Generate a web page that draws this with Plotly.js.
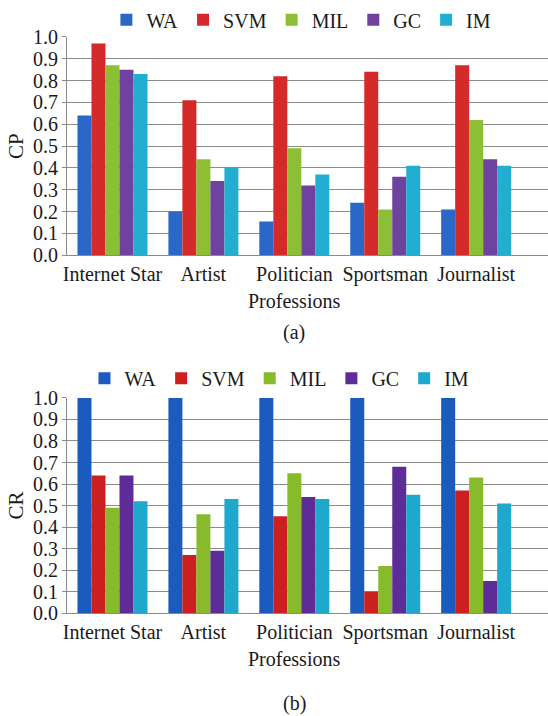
<!DOCTYPE html>
<html>
<head>
<meta charset="utf-8">
<script src="https://cdn.plot.ly/plotly-3.0.1.min.js"></script>
</head>
<body style="margin:0;padding:0;background:#fff">
<div id="chart" style="width:548px;height:716px"></div>
<script>
var professions = ["Internet Star", "Artist", "Politician", "Sportsman", "Journalist"];
var methods = ["WA", "SVM", "MIL", "GC", "IM"];
var colors = ["#2a67c6", "#d42a2a", "#8dbf36", "#6f42a0", "#22aed0"];
var colorsB = ["#1a5bbd", "#cc1f1f", "#87bb2c", "#5e2c97", "#1ea8cc"];

// CP values (panel a)
var cpWA  = [0.64, 0.20, 0.155, 0.24, 0.21];
var cpSVM = [0.97, 0.71, 0.82, 0.84, 0.87];
var cpMIL = [0.87, 0.44, 0.49, 0.21, 0.62];
var cpGC  = [0.85, 0.34, 0.32, 0.36, 0.44];
var cpIM  = [0.83, 0.40, 0.37, 0.41, 0.41];

// CR values (panel b)
var crWA  = [1.0, 1.0, 1.0, 1.0, 1.0];
var crSVM = [0.64, 0.27, 0.45, 0.10, 0.57];
var crMIL = [0.49, 0.46, 0.65, 0.22, 0.63];
var crGC  = [0.64, 0.29, 0.54, 0.68, 0.15];
var crIM  = [0.52, 0.53, 0.53, 0.55, 0.51];

var yTicks = [0, 0.1, 0.2, 0.3, 0.4, 0.5, 0.6, 0.7, 0.8, 0.9, 1.0];
var yTickText = ["0.0", "0.1", "0.2", "0.3", "0.4", "0.5", "0.6", "0.7", "0.8", "0.9", "1.0"];

var cpSeries = [cpWA, cpSVM, cpMIL, cpGC, cpIM];
var crSeries = [crWA, crSVM, crMIL, crGC, crIM];

var FONT = "Liberation Serif";
var TXT = "#1a1a1a";
var traces = [];
methods.forEach(function (m, i) {
  traces.push({
    type: "bar", name: m, x: professions, y: cpSeries[i],
    xaxis: "x", yaxis: "y", marker: {color: colors[i]},
    legend: "legend", legendgroup: "a" + m
  });
});
methods.forEach(function (m, i) {
  traces.push({
    type: "bar", name: m, x: professions, y: crSeries[i],
    xaxis: "x2", yaxis: "y2", marker: {color: colorsB[i]},
    legend: "legend2", legendgroup: "b" + m
  });
});

function xAxis(anchor) {
  return {
    domain: [0.1223, 1], anchor: anchor, type: "category",
    range: [-0.5, 4.79], showline: true, linecolor: "#8a8a8a", linewidth: 1,
    ticks: "", showgrid: false, zeroline: false, automargin: false,
    tickfont: {family: FONT, size: 20, color: TXT}, ticklabelstandoff: 1
  };
}
function yAxis(anchor, domain, title) {
  return {
    domain: domain, anchor: anchor, range: [0, 1.0],
    tickvals: yTicks, ticktext: yTickText,
    showline: true, linecolor: "#8a8a8a", linewidth: 1,
    ticks: "outside", ticklen: 4, tickcolor: "#8a8a8a",
    showgrid: true, gridcolor: "#8c8c8c", gridwidth: 1, zeroline: false,
    automargin: false,
    tickfont: {family: FONT, size: 20, color: TXT},
    title: {text: title, font: {family: FONT, size: 21, color: TXT}, standoff: 3}
  };
}

var layout = {
  width: 548, height: 716,
  margin: {l: 0, r: 0, t: 0, b: 0},
  paper_bgcolor: "#ffffff", plot_bgcolor: "#ffffff",
  barmode: "group", bargap: 0.23, bargroupgap: 0,
  font: {family: FONT, size: 20, color: TXT},
  xaxis: xAxis("y"),
  yaxis: yAxis("x", [0.6453, 0.9511], "CP"),
  xaxis2: xAxis("y2"),
  yaxis2: yAxis("x2", [0.1439, 0.4455], "CR"),
  legend: {orientation: "h", x: 0.55, xanchor: "center", y: 0.975, yanchor: "middle",
           font: {family: FONT, size: 20, color: TXT}, traceorder: "normal", bgcolor: "rgba(0,0,0,0)"},
  legend2: {orientation: "h", x: 0.51, xanchor: "center", y: 0.473, yanchor: "middle",
           font: {family: FONT, size: 20, color: TXT}, traceorder: "normal", bgcolor: "rgba(0,0,0,0)"},
  annotations: [
    {text: "Professions", xref: "x", x: 2, yref: "paper", y: 1 - 300/716, yanchor: "middle",
     showarrow: false, font: {family: FONT, size: 20, color: TXT}},
    {text: "(a)", xref: "x", x: 2, yref: "paper", y: 1 - 331/716, yanchor: "middle",
     showarrow: false, font: {family: FONT, size: 20, color: TXT}},
    {text: "Professions", xref: "x2", x: 2, yref: "paper", y: 1 - 659/716, yanchor: "middle",
     showarrow: false, font: {family: FONT, size: 20, color: TXT}},
    {text: "(b)", xref: "x2", x: 2, yref: "paper", y: 1 - 703/716, yanchor: "middle",
     showarrow: false, font: {family: FONT, size: 20, color: TXT}}
  ]
};

Plotly.newPlot("chart", traces, layout, {displayModeBar: false}).then(function (gd) {
  if (document.fonts && document.fonts.ready) {
    document.fonts.ready.then(function () { Plotly.redraw(gd); });
  }
});
</script>
</body>
</html>
